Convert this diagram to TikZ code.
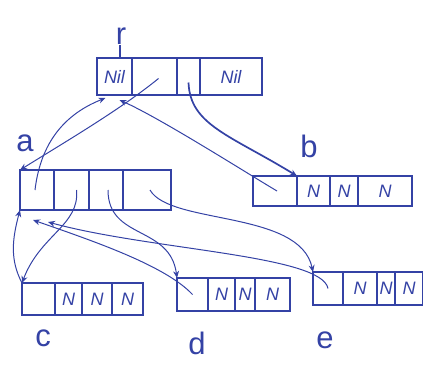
\documentclass[tikz,border=0pt]{standalone}
\usepackage{fontspec}
\setmainfont{Liberation Sans}
\usetikzlibrary{arrows.meta}
\definecolor{ink}{RGB}{52,66,165}
\tikzset{
  cell/.style={draw=ink, line width=1.2pt, inner sep=0pt, outer sep=0pt, text=ink,
    font=\fontsize{18}{18}\selectfont\itshape},
  lbl/.style={text=ink, inner sep=0pt, font=\fontsize{31}{31}\selectfont},
  ptr/.style={draw=ink, line width=1pt, -{Stealth[length=7pt,width=6pt]}},
}
\begin{document}
\begin{tikzpicture}[x=1pt,y=-1pt]
\useasboundingbox (0,0) rectangle (425,372);
% r
\node[cell, minimum width=35pt, minimum height=37pt] (r1) at (114.5,76.5) {Nil};
\node[cell, minimum width=45pt, minimum height=37pt] (r2) at (154.5,76.5) {};
\node[cell, minimum width=23pt, minimum height=37pt] (r3) at (188.5,76.5) {};
\node[cell, minimum width=62pt, minimum height=37pt] (r4) at (231,76.5) {Nil};
\node[lbl] (rl) at (121,36) {r};
\draw[ink, line width=1.2pt] (rl.south) ++(-1pt,0) coordinate (rs) -- (rs |- r1.north);
% a
\node[cell, minimum width=34pt, minimum height=40pt] (a1) at (37,190) {};
\node[cell, minimum width=35pt, minimum height=40pt] (a2) at (71.5,190) {};
\node[cell, minimum width=34pt, minimum height=40pt] (a3) at (106,190) {};
\node[cell, minimum width=48pt, minimum height=40pt] (a4) at (147,190) {};
\node[lbl] (al) at (25,143) {a};
% b
\node[cell, minimum width=44pt, minimum height=30pt] (b1) at (275,191) {};
\node[cell, minimum width=33pt, minimum height=30pt] (b2) at (313.5,191) {N};
\node[cell, minimum width=28pt, minimum height=30pt] (b3) at (344,191) {N};
\node[cell, minimum width=54pt, minimum height=30pt] (b4) at (385,191) {N};
\node[lbl] (bl) at (309,146) {b};
% c
\node[cell, minimum width=33pt, minimum height=32pt] (c1) at (38.5,299) {};
\node[cell, minimum width=27pt, minimum height=32pt] (c2) at (68.5,299) {N};
\node[cell, minimum width=30pt, minimum height=32pt] (c3) at (97,299) {N};
\node[cell, minimum width=31pt, minimum height=32pt] (c4) at (127.5,299) {N};
\node[lbl] (cl) at (43,338) {c};
% d
\node[cell, minimum width=31pt, minimum height=33pt] (d1) at (192.5,294.5) {};
\node[cell, minimum width=27pt, minimum height=33pt] (d2) at (221.5,294.5) {N};
\node[cell, minimum width=20pt, minimum height=33pt] (d3) at (245,294.5) {N};
\node[cell, minimum width=35pt, minimum height=33pt] (d4) at (272.5,294.5) {N};
\node[lbl] (dl) at (197,343) {d};
% e
\node[cell, minimum width=30pt, minimum height=33pt] (e1) at (328,288.5) {};
\node[cell, minimum width=34pt, minimum height=33pt] (e2) at (360,288.5) {N};
\node[cell, minimum width=18pt, minimum height=33pt] (e3) at (386,288.5) {N};
\node[cell, minimum width=27pt, minimum height=33pt] (e4) at (409,288.5) {N};
\node[lbl] (el) at (325,340) {e};
% pointers
\draw[ptr] (r2.center) ++(4,2) .. controls (120,110) and (60,145) .. (a1.north west);
\draw[ptr] (a1.center) ++(-2,0) .. controls (40,148) and (60,116) .. ([xshift=-9pt,yshift=-3pt]r1.south);
\draw[ptr] (b1.center) ++(2,0) .. controls (245,172) and (160,118) .. ([xshift=5pt,yshift=-5pt]r1.south);
\draw[ptr, line width=1.7pt] (r3.center) ++(0,6) .. controls (190,125) and (230,135) .. (b1.north east);
\draw[ptr] (a2.center) ++(5,0) .. controls (80,225) and (40,235) .. (c1.north west);
\draw[ptr] (a3.center) ++(2,0) .. controls (108,240) and (170,225) .. (d1.north west);
\draw[ptr] (a4.center) ++(3,0) .. controls (170,225) and (300,210) .. (e1.north west);
\draw[ptr] (c1.north west) .. controls (10,260) and (12,240) .. (a1.south west);
\draw[ptr] (d1.center) .. controls (165,265) and (90,240) .. ([xshift=-4pt,yshift=-10pt]a1.south);
\draw[ptr] (e1.center) .. controls (322,255) and (150,250) .. ([xshift=11pt,yshift=-12pt]a1.south);
\end{tikzpicture}
\end{document}
